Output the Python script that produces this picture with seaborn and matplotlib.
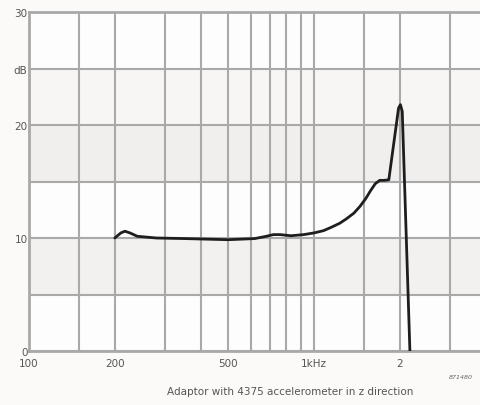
import numpy as np
import pandas as pd
import matplotlib
matplotlib.use("Agg")
import matplotlib.pyplot as plt
import seaborn as sns

# data
freq_hz = [200, 210, 217, 226, 240, 280, 350, 500, 620, 680, 720, 760, 830, 920,
           1000, 1080, 1150, 1230, 1300, 1380, 1450, 1520, 1580, 1640, 1700, 1760,
           1830, 1980, 2010, 2040, 2170]
level_db = [10.0, 10.45, 10.6, 10.45, 10.15, 10.0, 9.95, 9.85, 9.95, 10.15, 10.3, 10.3, 10.2, 10.3,
            10.45, 10.65, 10.95, 11.3, 11.7, 12.2, 12.8, 13.5, 14.2, 14.8, 15.1, 15.1,
            15.15, 21.5, 21.8, 21.2, 0.0]

x_major = [100, 200, 500, 1000, 2000]
x_major_labels = ["100", "200", "500", "1kHz", "2"]
x_minor = [150, 300, 400, 600, 700, 800, 900, 1500, 3000]
y_major = [0, 10, 20, 25, 30]
y_major_labels = ["0", "10", "20", "dB", "30"]
y_minor = [5, 15]

xlabel_text = "Adaptor with 4375 accelerometer in z direction"
ref_text = "871480"

df = pd.DataFrame({"freq": freq_hz, "level": level_db})

sns.set_style("white")
plt.rcParams["font.family"] = ["DejaVu Sans"]

fig = plt.figure(figsize=(4.8, 4.06), dpi=100)
fig.patch.set_facecolor("#fbfaf8")
ax = fig.add_axes([29/480, (406-352)/406, 451/480, (352-13)/406])
ax.set_facecolor("#fdfdfd")

ax.set_xscale("log")
ax.set_xlim(100, 3823)
ax.set_ylim(0, 30)

for lo, hi, c in [(5, 10, "#f2f1ef"), (15, 20, "#f0efed"), (20, 25, "#f7f6f4")]:
    ax.axhspan(lo, hi, color=c, zorder=0, lw=0)

sns.lineplot(data=df, x="freq", y="level", ax=ax, color="#1e1e1e", lw=2.0, zorder=5)

ax.set_xticks(x_major)
ax.set_xticklabels(x_major_labels)
ax.set_xticks(x_minor, minor=True)
ax.set_xticklabels([], minor=True)
ax.set_yticks(y_major)
ax.set_yticklabels(y_major_labels)
ax.set_yticks(y_minor, minor=True)

ax.grid(True, which="both", color="#a9a9a9", lw=1.5, zorder=1)
ax.set_axisbelow(True)

ax.tick_params(axis="both", which="both", length=0, labelsize=7.5, labelcolor="#555555")
ax.tick_params(axis="x", pad=5)
ax.tick_params(axis="y", pad=1)

for s in ["left", "bottom", "top"]:
    ax.spines[s].set_color("#a9a9a9")
    ax.spines[s].set_linewidth(2.0)
ax.spines["right"].set_visible(False)

ax.set_xlabel("")
ax.set_ylabel("")

fig.text(290/480, (406-392)/406, xlabel_text, ha="center", va="center",
         fontsize=7.5, color="#555555")
fig.text(461/480, (406-378)/406, ref_text, ha="center", va="center",
         fontsize=4.5, color="#666666", style="italic")

fig.savefig("out.png", dpi=100, facecolor=fig.get_facecolor())
